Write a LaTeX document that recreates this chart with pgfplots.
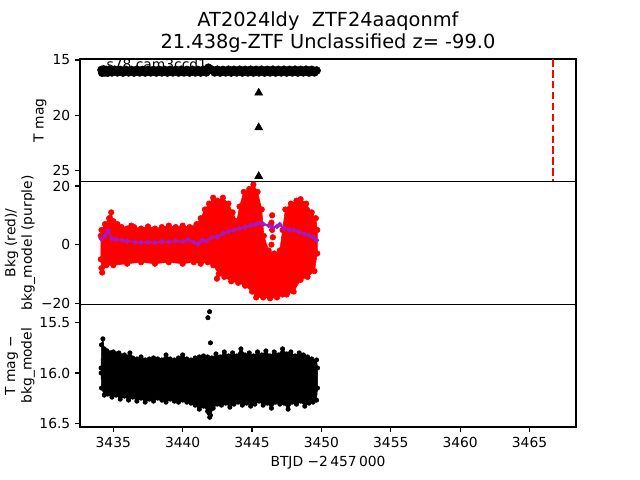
\documentclass[border=0pt]{standalone}
\usepackage{pgfplots}
\pgfplotsset{compat=1.18}
\usepackage{fontspec}
\setmainfont{DejaVu Sans}
\definecolor{mplpurple}{RGB}{165,25,195}
\pgfplotsset{
  panel/.style={
    scale only axis, width=4.96in, height=1.2267in, anchor=south west,
    xmin=3432.6, xmax=3468.35,
    tick align=outside, major tick length=3.5pt,
    xtick pos=bottom, ytick pos=left,
    axis line style={line width=0.8pt}, every tick/.style={black, line width=0.8pt},
    /pgf/number format/assume math mode=true,
    /pgf/number format/1000 sep={},
    tick label style={font=\fontsize{10}{12}\selectfont},
    label style={font=\fontsize{10}{12}\selectfont},
  }
}
\begin{document}
\begin{tikzpicture}
\path[use as bounding box] (0,0) rectangle (6.4in,4.8in);
\node[anchor=base, font=\fontsize{14}{16}\selectfont] at (3.28in,4.53in) {AT2024ldy\ \ ZTF24aaqonmf};
\node[anchor=base, font=\fontsize{14}{16}\selectfont] at (3.28in,4.31in) {21.438g-ZTF Unclassified z= -99.0};

% ---------------- top panel ----------------
\begin{axis}[panel, at={(0.80in,2.9833in)},
  y dir=reverse, ymin=14.91, ymax=25.99, ytick={15,20,25},
  xtick=\empty,
  ylabel={T mag},
  every axis y label/.style={at={(axis description cs:-0.0806,0.5)}, rotate=90, anchor=center},
]
\addplot[only marks, mark=*, mark size=2.9pt, black] coordinates {
(3434.15,15.90)(3434.2,16.15)(3434.3,15.85)(3434.4,16.12)(3434.5,15.9)(3434.6,16.14)(3434.7,15.88)
(3434.9,16.12)(3435.1,15.88)(3435.3,16.12)(3435.5,15.9)(3435.7,16.13)(3435.9,15.89)
(3436.1,16.12)(3436.3,15.9)(3436.5,16.13)(3436.7,15.88)(3436.9,16.12)(3437.1,15.9)
(3437.3,16.13)(3437.5,15.89)(3437.7,16.12)(3437.9,15.9)(3438.1,16.13)(3438.3,15.89)
(3438.5,16.12)(3438.7,15.9)(3438.9,16.13)(3439.1,15.89)(3439.3,16.12)(3439.5,15.9)
(3439.7,16.13)(3439.9,15.88)(3440.1,16.12)(3440.3,15.9)(3440.5,16.13)(3440.7,15.89)
(3440.9,16.12)(3441.1,15.9)(3441.3,16.13)(3441.5,15.89)(3441.7,16.12)(3441.85,15.7)
(3441.95,15.8)(3442.1,15.89)(3442.3,16.12)(3442.5,15.88)(3442.7,16.13)(3442.9,15.9)
(3443.1,16.12)(3443.3,15.88)(3443.5,16.13)(3443.7,15.89)(3443.9,16.12)(3444.1,15.88)
(3444.3,16.13)(3444.5,15.89)(3444.7,16.12)(3444.9,15.88)(3445.1,16.13)(3445.3,15.89)
(3445.5,16.12)(3445.7,15.88)(3445.9,16.13)(3446.1,15.89)(3446.3,16.12)(3446.5,15.88)
(3446.7,16.13)(3446.9,15.89)(3447.1,16.12)(3447.3,15.88)(3447.5,16.13)(3447.7,15.89)
(3447.9,16.12)(3448.1,15.88)(3448.3,16.13)(3448.5,15.89)(3448.7,16.12)(3448.9,15.88)
(3449.1,16.13)(3449.3,15.89)(3449.5,16.12)(3449.65,15.95)
};
\addplot[only marks, mark=triangle*, mark size=3.3pt, black] coordinates {
(3445.48,17.97)(3445.48,21.1)(3445.48,25.5)
};
\addplot[red, line width=1.5pt, dash pattern=on 5.5pt off 2.4pt] coordinates {(3466.7,14.91)(3466.7,25.99)};
\node[anchor=base west, inner sep=0pt, font=\fontsize{10}{12}\selectfont] at (axis cs:3434.5,15.82) {s78 cam3ccd1};
\end{axis}

% ---------------- middle panel ----------------
\begin{axis}[panel, at={(0.80in,1.7567in)},
  ymin=-20.34, ymax=21.47, ytick={-20,0,20}, yticklabels={−20,0,20},
  xtick=\empty,
  ylabel={Bkg (red)/\\bkg\_model (purple)},
  every axis y label/.style={at={(axis description cs:-0.121,0.5)}, rotate=90, anchor=center, align=center},
]
\addplot[draw=red, fill=red, mark=*, mark size=2pt, mark options={fill=red, draw=red}] coordinates {
(3434.10,3)(3434.15,5)(3434.4,7)(3434.7,9)(3434.85,11)(3435.0,8)(3435.3,7)(3435.6,6)
(3436.0,5.5)(3436.3,6.5)(3436.5,6)(3437.0,5.5)(3437.5,6.2)(3438.0,5.5)(3438.5,6)(3439.0,6.5)
(3439.5,6)(3440.0,6.5)(3440.5,6)(3441.0,7)(3441.3,9)(3441.6,12)(3441.9,14)(3442.2,16)
(3442.5,15)(3442.9,16)(3443.3,14)(3443.6,11)(3443.9,8)(3444.1,13)(3444.4,18)(3444.8,19)
(3445.1,20.5)(3445.4,18)(3445.7,12)(3445.85,3)(3446.2,-2)(3446.6,-3)(3447.0,-2)
(3447.2,5)(3447.4,12)(3447.8,14)(3448.2,15)(3448.5,15.5)(3448.9,14)(3449.3,11)
(3449.6,9)(3449.7,5)
(3449.7,-3)(3449.5,-9)(3449.0,-11)(3448.5,-12)(3448.0,-16)(3447.5,-17)(3447.2,-17)
(3446.8,-18)(3446.3,-18.3)(3445.8,-18)(3445.3,-18)(3445.0,-16)(3444.5,-14)(3444.0,-13)
(3443.5,-12.5)(3443.0,-11)(3442.6,-10)(3442.2,-7)(3441.8,-6)(3441.3,-6.5)(3440.8,-6)
(3440.0,-6.5)(3439.0,-6)(3438.0,-6.5)(3437.0,-6)(3436.0,-6.5)(3435.0,-7)(3434.5,-7)
(3434.2,-9.5)(3434.1,-5)
} -- cycle;
\addplot[only marks, mark=*, mark size=2pt, red] coordinates {
(3446.45,10)(3446.4,7.5)(3446.45,5)(3446.5,2.5)(3446.4,0)(3442.47,-11.6)(3434.15,-8)
};
\addplot[mplpurple, line width=1.5pt, mark=*, mark size=1pt] coordinates {
(3434.13,2.0)(3434.4,3)(3434.62,4.9)(3434.9,2.0)(3435.2,1.8)(3435.63,1.5)(3436.0,1.2)
(3436.6,0.9)(3437.0,0.8)(3437.5,0.9)(3438.0,0.7)(3438.5,1.0)(3439.0,0.9)(3439.5,1.3)
(3440.0,1.0)(3440.4,1.7)(3440.8,0.8)(3441.1,0.3)(3441.4,1.5)(3441.7,1.2)(3442.1,2.5)
(3442.5,2.6)(3442.9,3.8)(3443.3,4.5)(3443.7,5.0)(3444.1,5.5)(3444.5,6.0)(3444.9,6.6)
(3445.2,6.8)(3445.5,7.4)(3445.8,7.0)(3446.2,6.5)(3446.5,5.9)(3446.8,6.2)(3447.0,6.9)
(3447.3,5.6)(3447.7,5.0)(3448.0,4.9)(3448.4,4.3)(3448.8,3.6)(3449.1,3.2)(3449.4,2.5)
(3449.65,1.5)
};
\end{axis}

% ---------------- bottom panel ----------------
\begin{axis}[panel, at={(0.80in,0.53in)},
  y dir=reverse, ymin=15.317, ymax=16.537, ytick={15.5,16.0,16.5},
  yticklabel style={/pgf/number format/.cd, fixed, fixed zerofill, precision=1},
  xtick={3435,3440,...,3465},
  ylabel={T mag −\\bkg\_model},
  every axis y label/.style={at={(axis description cs:-0.121,0.5)}, rotate=90, anchor=center, align=center},
  xlabel={BTJD −2\,457\,000},
  every axis x label/.style={at={(axis description cs:0.5,-0.295)}, anchor=center},
]
\addplot[draw=black, fill=black, mark=*, mark size=1.6pt] coordinates {
(3434.12,15.95)(3434.15,15.72)(3434.25,15.66)(3434.35,15.76)(3434.55,15.78)(3434.8,15.80)
(3435.0,15.79)(3435.2,15.81)(3435.4,15.80)(3435.6,15.83)(3435.8,15.82)(3436.0,15.84)
(3436.2,15.80)(3436.4,15.85)(3436.7,15.86)(3437.0,15.84)(3437.3,15.87)(3437.6,15.86)
(3437.9,15.85)(3438.2,15.86)(3438.5,15.87)(3438.8,15.82)(3439.1,15.86)(3439.4,15.87)
(3439.7,15.85)(3440.0,15.82)(3440.3,15.86)(3440.6,15.87)(3440.9,15.85)(3441.2,15.84)
(3441.5,15.83)(3441.8,15.84)(3442.1,15.85)(3442.4,15.81)(3442.7,15.84)(3443.0,15.79)
(3443.3,15.83)(3443.6,15.80)(3443.9,15.83)(3444.2,15.76)(3444.5,15.82)(3444.8,15.80)
(3445.1,15.83)(3445.4,15.79)(3445.7,15.82)(3446.0,15.78)(3446.3,15.83)(3446.6,15.79)
(3446.9,15.82)(3447.2,15.76)(3447.5,15.81)(3447.8,15.79)(3448.1,15.83)(3448.4,15.80)
(3448.7,15.82)(3449.0,15.84)(3449.3,15.86)(3449.65,15.87)(3449.72,15.95)
(3449.72,16.15)(3449.65,16.27)(3449.4,16.29)(3449.1,16.30)(3448.8,16.33)(3448.5,16.28)
(3448.2,16.31)(3447.9,16.29)(3447.6,16.36)(3447.3,16.30)(3447.0,16.31)(3446.7,16.29)
(3446.4,16.35)(3446.1,16.30)(3445.8,16.32)(3445.5,16.28)(3445.2,16.31)(3444.9,16.33)
(3444.6,16.30)(3444.3,16.32)(3444.0,16.29)(3443.7,16.31)(3443.4,16.34)(3443.1,16.30)
(3442.8,16.32)(3442.5,16.31)(3442.2,16.35)(3441.95,16.44)(3441.8,16.38)(3441.5,16.33)
(3441.2,16.36)(3440.9,16.32)(3440.6,16.30)(3440.3,16.29)(3440.0,16.27)(3439.7,16.29)
(3439.4,16.28)(3439.1,16.26)(3438.8,16.29)(3438.5,16.27)(3438.2,16.25)(3437.9,16.28)
(3437.6,16.26)(3437.3,16.29)(3437.0,16.25)(3436.7,16.28)(3436.4,16.24)(3436.1,16.27)
(3435.8,16.23)(3435.5,16.26)(3435.2,16.22)(3434.9,16.24)(3434.6,16.21)(3434.35,16.22)
(3434.15,16.15)(3434.12,16.0)
} -- cycle;
\addplot[only marks, mark=*, mark size=1.6pt, black] coordinates {
(3441.94,15.39)(3441.82,15.45)(3442.0,15.70)(3441.9,16.40)(3442.0,16.42)
};
\end{axis}
\end{tikzpicture}
\end{document}
